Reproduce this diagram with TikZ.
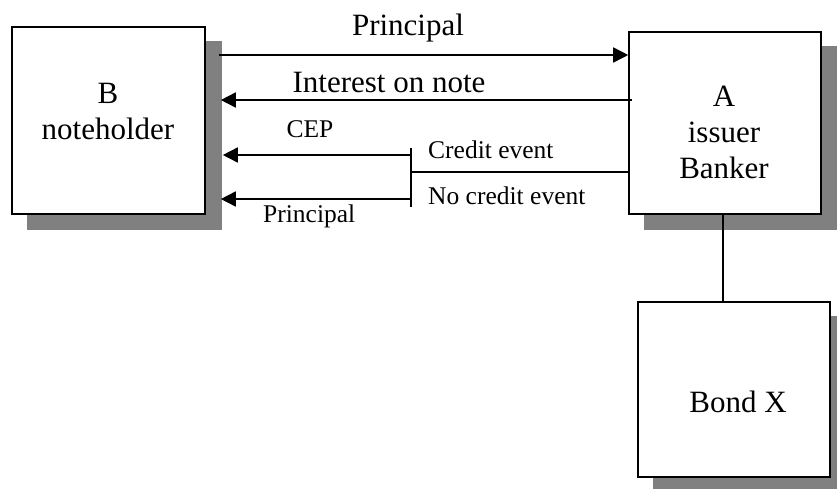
\documentclass[tikz,border=0pt]{standalone}
\usepackage{fontspec}
\setmainfont{Liberation Serif}
\usetikzlibrary{arrows.meta,calc,backgrounds}

\tikzset{
  party/.style={draw=black, line width=1.6pt, fill=white, inner sep=0pt},
  bigtext/.style={font=\fontsize{31}{36}\selectfont, anchor=base, inner sep=0pt},
  smalltext/.style={font=\fontsize{25.5}{30}\selectfont, anchor=base, inner sep=0pt},
  flow/.style={line width=1.6pt},
  arr/.style={flow, -{Triangle[length=15pt,width=15pt]}},
  boxshadow/.style={fill=black!50}
}

\begin{document}
\begin{tikzpicture}[x=1pt,y=-1pt]
  \useasboundingbox (0,0) rectangle (837,488);
  \clip (0,0) rectangle (837,488);

  % the three parties
  \node[party, minimum width=193pt, minimum height=187pt] (B) at (108.5,120.5) {};
  \node[party, minimum width=192pt, minimum height=182pt] (A) at (725,123) {};
  \node[party, minimum width=192pt, minimum height=175pt] (X) at (734,389.5) {};

  % drop shadows behind the boxes
  \begin{pgfonlayer}{background}
    \foreach \n in {B,A,X}
      \fill[boxshadow] ($(\n.south west)+(16,15)$) rectangle ($(\n.north east)+(16,15)$);
  \end{pgfonlayer}

  % box captions
  \node[bigtext] (Bl1) at (108,103) {B};
  \node[bigtext] (Bl2) at (108,139) {noteholder};
  \node[bigtext] (Al1) at (724,106) {A};
  \node[bigtext] (Al2) at (724,142) {issuer};
  \node[bigtext] (Al3) at (724,178) {Banker};
  \node[bigtext] (Xl1) at (738,412) {Bond X};

  % principal paid in, interest paid out
  \draw[arr] ($(B.east |- 0,55)+(13,0)$) -- (A.west |- 0,55);
  \draw[arr] ($(A.west |- 0,100)+(4,0)$) -- ($(B.east |- 0,100)+(15,0)$);
  \node[bigtext] (lprin) at (408,35) {Principal};
  \node[bigtext] (lint) at (389,92) {Interest on note};

  % settlement branch at maturity
  \coordinate (split) at (411,172);
  \coordinate (splitTop) at (411,148);
  \coordinate (splitBot) at (411,207);
  \draw[flow] (A.west |- split) -- (split);
  \draw[flow] (splitTop) -- (splitBot);
  \draw[arr] (split |- 0,155) -- ($(B.east |- 0,155)+(17,0)$);
  \draw[arr] (split |- 0,199) -- ($(B.east |- 0,199)+(15,0)$);
  \node[smalltext] (lcep) at (310,137) {CEP};
  \node[smalltext, anchor=base west] (lce) at (428,158) {Credit event};
  \node[smalltext, anchor=base west] (lnce) at (428,204) {No credit event};
  \node[smalltext, anchor=base west] (lprin2) at (263,222) {Principal};

  % issuer holds the reference bond
  \draw[flow] (A.south -| 723,0) -- (X.north -| 723,0);
\end{tikzpicture}
\end{document}
